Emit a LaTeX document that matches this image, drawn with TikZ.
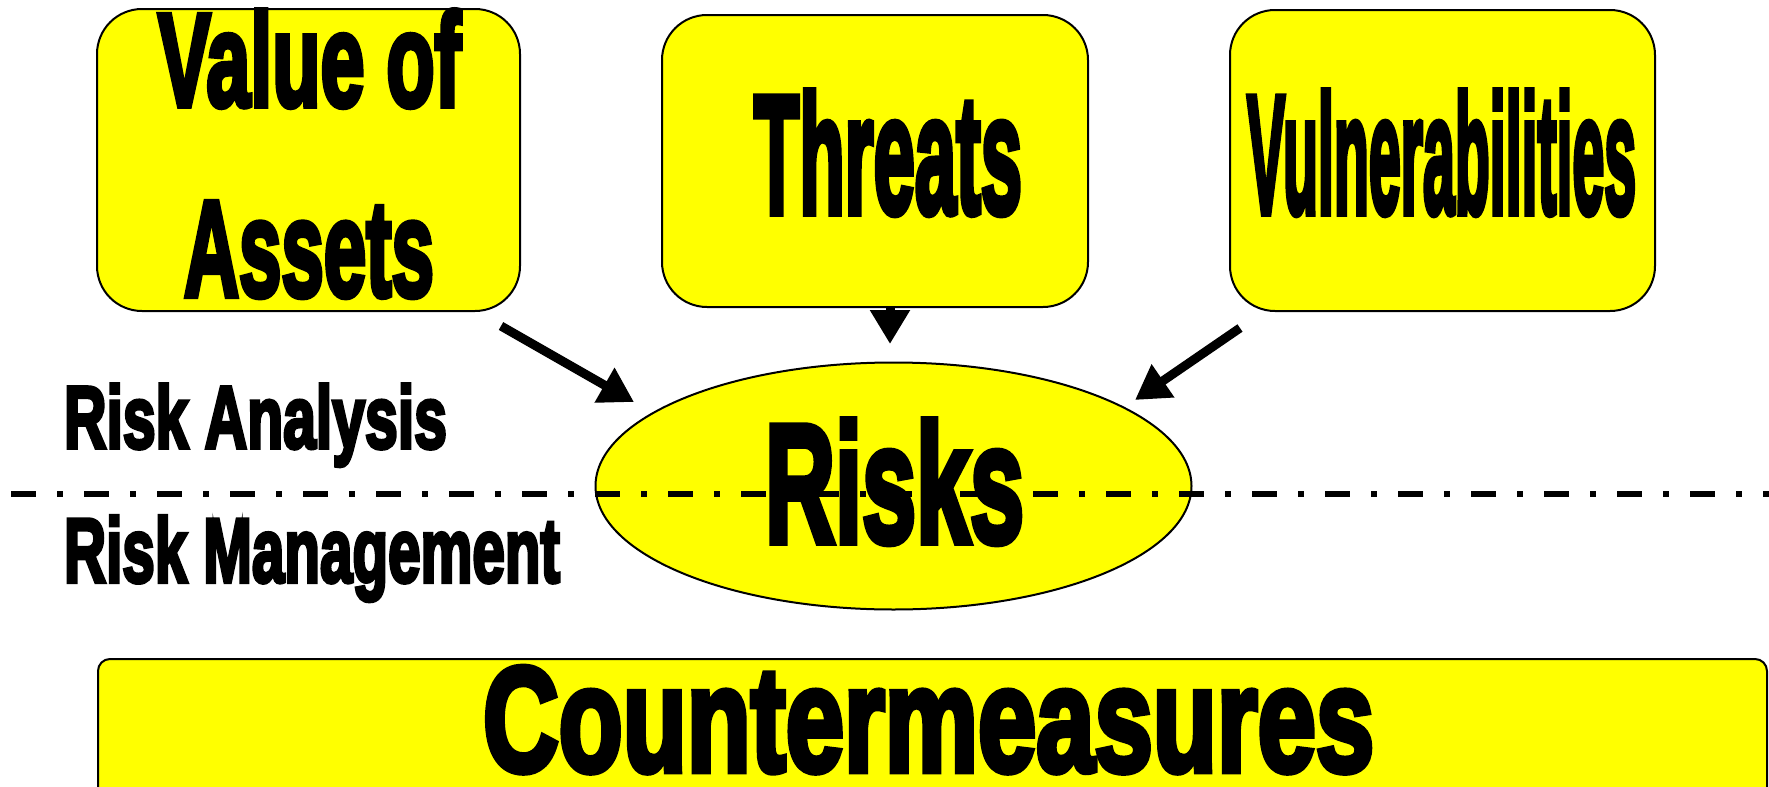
\documentclass[tikz,border=0pt]{standalone}
\usepackage{fontspec}
\usepackage{graphicx}
\usetikzlibrary{shapes.geometric,arrows.meta}
\newfontfamily\heavy{Liberation Sans}[FakeBold=4.5]
\definecolor{boxyellow}{HTML}{FFFF00}
% heavy condensed label, scaled to a given width and height (in pt)
\newcommand{\fitlbl}[3]{\resizebox{#1pt}{#2pt}{\heavy\bfseries #3}}
\tikzset{
  card/.style={draw=black, line width=1pt, fill=boxyellow, rounded corners=22.5pt, inner sep=0pt},
  bar/.style={draw=black, line width=1pt, fill=boxyellow, rounded corners=6pt, inner sep=0pt},
  oval/.style={ellipse, draw=black, line width=1pt, fill=boxyellow, inner sep=0pt},
  lbl/.style={anchor=base west, inner sep=0pt, outer sep=0pt},
  flow/.style={line width=4.5pt, -{Triangle[length=17pt,width=19pt]}},
  divider/.style={line width=3pt, dash pattern=on 12.5pt off 10.5pt on 3pt off 10.5pt}
}
\begin{document}
\begin{tikzpicture}[x=0.5pt, y=-0.5pt]
  \useasboundingbox[fill=white] (0,0) rectangle (1769,787);

  % input boxes
  \node[card, minimum width=211.5pt, minimum height=151pt] (assets) at (308.5,160) {};
  \node[card, minimum width=213pt, minimum height=146pt] (threats) at (875,161) {};
  \node[card, minimum width=212.5pt, minimum height=150.5pt] (vulns) at (1442.5,160.5) {};

  % risks ellipse
  \node[oval, minimum width=298pt, minimum height=123.5pt] (risk) at (893.5,486) {};

  % countermeasures bar (runs past the lower edge)
  \node[bar, minimum width=834.5pt, minimum height=71pt, anchor=north west] (counter) at (97,658) {};

  % analysis / management divider
  \coordinate (divL) at (11,494);
  \coordinate (divR) at (1769,494);
  \draw[divider] (divL) -- (divR);

  % labels
  \node[lbl] (tValue) at (158,106) {\fitlbl{151.5}{48}{Value of}};
  \node[lbl] (tAssets) at (184,296) {\fitlbl{125}{47}{Assets}};
  \node[lbl] (tThreats) at (754,213) {\fitlbl{134}{61}{Threats}};
  \node[lbl] (tVulns) at (1247,213) {\fitlbl{194.5}{61}{Vulnerabilities}};
  \node[lbl] (tRisks) at (765,542) {\fitlbl{129.5}{61}{Risks}};
  \node[lbl] (tAnalysis) at (64,448) {\fitlbl{191.5}{32}{Risk Analysis}};
  \node[lbl] (tManage) at (64,582) {\fitlbl{248}{33}{Risk Management}};
  \node[lbl] (tCounter) at (483,771) {\fitlbl{445.5}{52}{Countermeasures}};

  % arrows into the risks ellipse
  \coordinate (a1s) at (501,326);
  \coordinate (a1e) at (634,402);
  \coordinate (a2s) at (890,307);
  \coordinate (a2e) at (890,344);
  \coordinate (a3s) at (1240,328);
  \coordinate (a3e) at (1135,400);
  \draw[flow] (a1s) -- (a1e);
  \draw[flow] (a2s) -- (a2e);
  \draw[flow] (a3s) -- (a3e);
\end{tikzpicture}
\end{document}
